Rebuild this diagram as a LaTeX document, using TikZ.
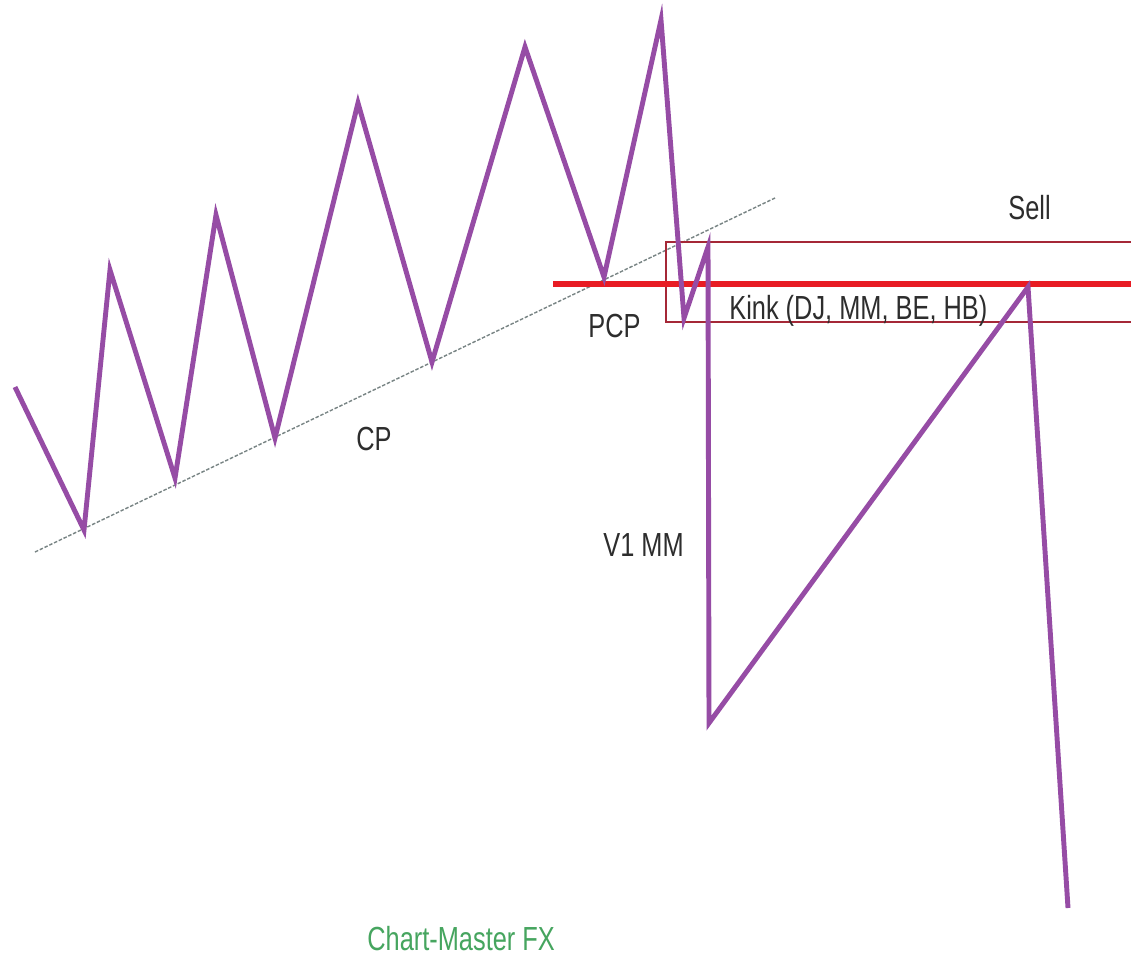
\documentclass[tikz,border=0pt]{standalone}
\usepackage{fontspec}
\setmainfont[FakeStretch=0.76]{Liberation Sans}
\usepackage{xcolor}
\usepackage{tikz}
\definecolor{zig}{RGB}{150,76,165}
\definecolor{trend}{RGB}{120,132,132}
\definecolor{level}{RGB}{232,28,36}
\definecolor{zone}{RGB}{165,40,55}
\definecolor{brand}{RGB}{70,165,95}
\definecolor{ink}{RGB}{45,45,45}

\begin{document}
\begin{tikzpicture}[x=0.02cm,y=-0.02cm,font=\fontsize{19}{22}\selectfont]
\tikzset{lbl/.style={text=ink,inner sep=0pt,anchor=base west}}
\useasboundingbox[fill=white] (0,0) rectangle (1131,960);
% trend line under the lows
\draw[trend,line width=0.8pt,dash pattern=on 2pt off 1pt] (35,552) -- (775,198);
% sell zone and level
\draw[zone,line width=0.9pt] (1131,242) -| (666,322) -- (1131,322);
\draw[level,line width=3.4pt] (553,284) -- (1131,284);
% price path
\draw[zig,line width=2.8pt] plot coordinates {(15,387) (84,530) (110,270) (175,478) (216,215)
  (275,438) (358,103) (432,362) (525,47) (604,277) (661,20) (684,318) (708,247)
  (709,723) (1028,287) (1068,908)};
% labels
\node[lbl] (sell) at (1008,219) {Sell};
\node[lbl] (pcp) at (588,337) {PCP};
\node[lbl] (kink) at (729,319) {Kink (DJ, MM, BE, HB)};
\node[lbl] (cp) at (356,450) {CP};
\node[lbl] (v1mm) at (603,556) {V1 MM};
\node[lbl,text=brand] (brand) at (367,950) {Chart-Master FX};
\end{tikzpicture}
\end{document}
